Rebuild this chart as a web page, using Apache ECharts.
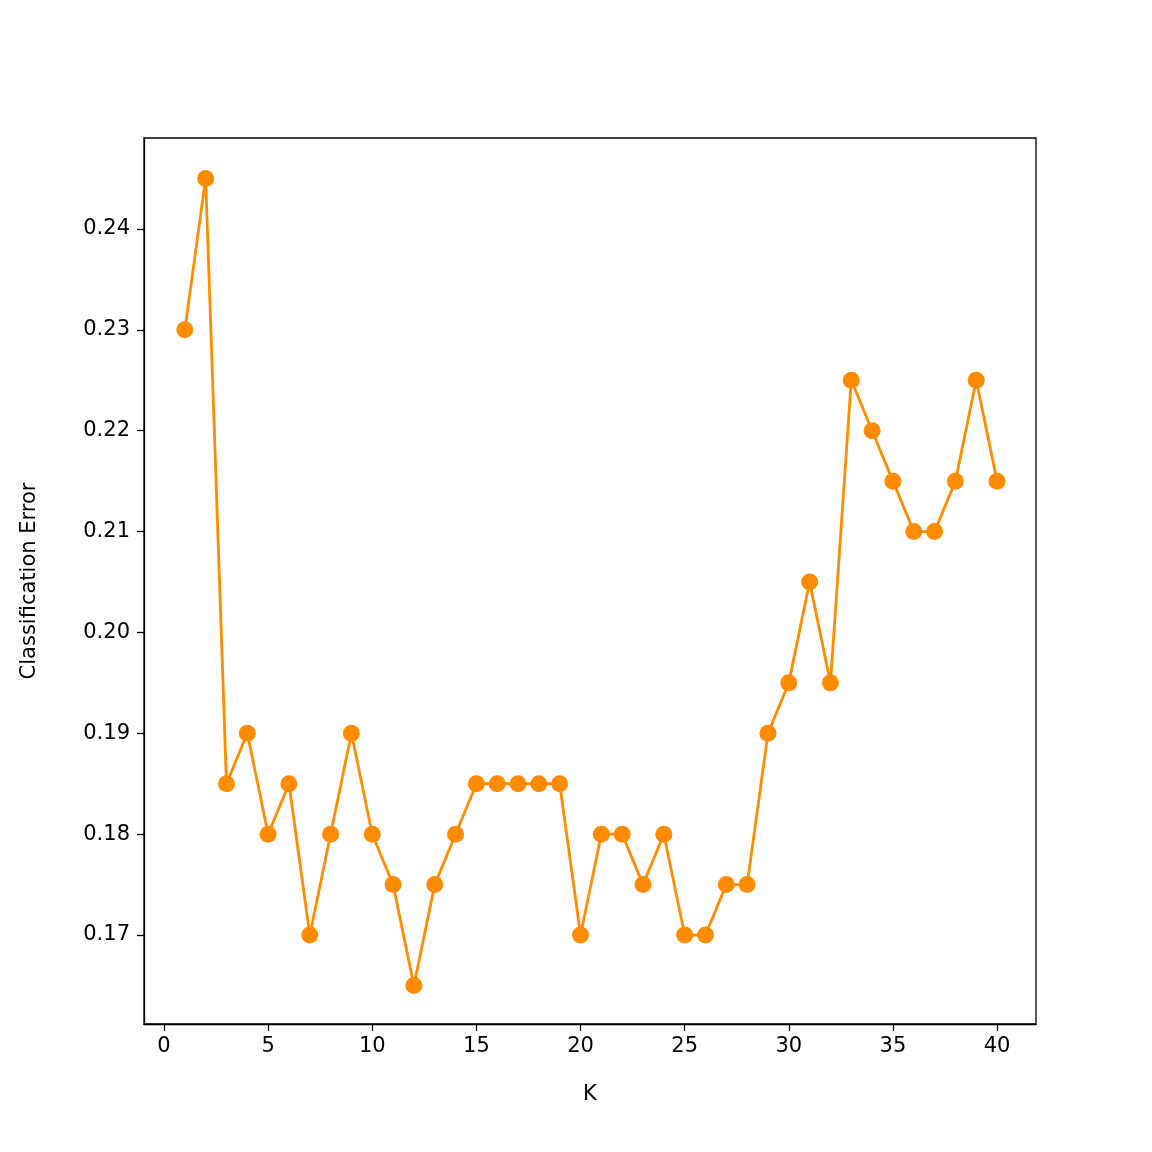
<!DOCTYPE html>
<html><head><meta charset="utf-8">
<script src="https://cdn.jsdelivr.net/npm/echarts@6/dist/echarts.min.js"></script>
<style>html,body{margin:0;background:#fff}#c{width:1152px;height:1152px}</style>
</head><body><div id="c"></div>
<script>
const ks = [1,2,3,4,5,6,7,8,9,10,11,12,13,14,15,16,17,18,19,20,21,22,23,24,25,26,27,28,29,30,31,32,33,34,35,36,37,38,39,40];
const errors = [0.23,0.245,0.185,0.19,0.18,0.185,0.17,0.18,0.19,0.18,0.175,0.165,0.175,0.18,0.185,0.185,0.185,0.185,0.185,0.17,0.18,0.18,0.175,0.18,0.17,0.17,0.175,0.175,0.19,0.195,0.205,0.195,0.225,0.22,0.215,0.21,0.21,0.215,0.225,0.215];
const xTicks = [0,5,10,15,20,25,30,35,40];
const yTicks = [0.17,0.18,0.19,0.20,0.21,0.22,0.23,0.24];
const font = {fontFamily:'DejaVu Sans', fontSize:21, color:'#000'};
const chart = echarts.init(document.getElementById('c'));
chart.setOption({
  animation:false,
  grid:{left:144,top:138,width:892,height:886,show:true,borderColor:'#000',borderWidth:1.3,backgroundColor:'transparent'},
  xAxis:{type:'value',min:-0.96,max:41.87,name:'K',nameLocation:'middle',nameGap:60,nameTextStyle:font,
    splitLine:{show:false},axisLine:{show:true,onZero:false,lineStyle:{color:'#000',width:1.3}},
    axisTick:{show:true,customValues:xTicks,length:7,inside:false,lineStyle:{color:'#000',width:1.3}},
    axisLabel:{customValues:xTicks,margin:12,...font}},
  yAxis:{type:'value',min:0.16118,max:0.24902,name:'Classification Error',nameLocation:'middle',nameGap:104,nameTextStyle:font,
    splitLine:{show:false},axisLine:{show:true,onZero:false,lineStyle:{color:'#000',width:1.3}},
    axisTick:{show:true,customValues:yTicks,length:7,lineStyle:{color:'#000',width:1.3}},
    axisLabel:{customValues:yTicks,margin:14,formatter:v=>v.toFixed(2),...font}},
  series:[{type:'line',data:ks.map((k,i)=>[k,errors[i]]),symbol:'circle',symbolSize:17,
    itemStyle:{color:'#ff8c00'},lineStyle:{color:'#ff8c00',width:2.8}}]
});
</script></body></html>
